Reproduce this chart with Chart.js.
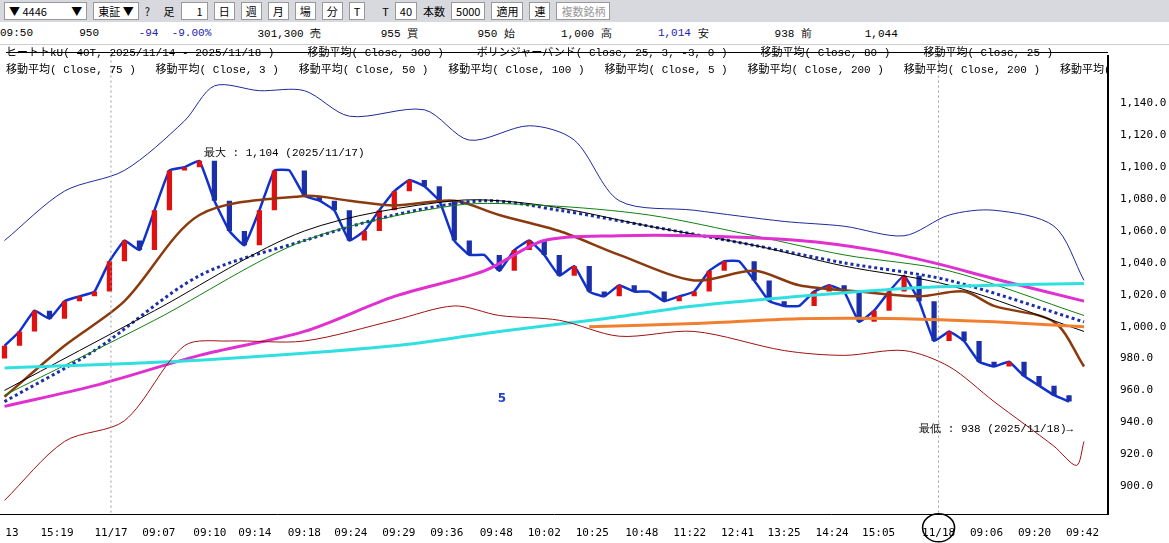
<!DOCTYPE html>
<html><head><meta charset="utf-8">
<script src="https://cdn.jsdelivr.net/npm/chart.js@4"></script>
<style>
body{margin:0;width:1169px;height:543px;overflow:hidden;font-family:"Noto Sans CJK JP","DejaVu Sans Mono",monospace;font-size:11px;background:#fff}
#bar{height:22px;background:#d8d9de;display:flex;align-items:center;gap:6px;padding-left:4px}
#bar span{background:#fff;border:1px solid #999;padding:0 4px;line-height:16px}
#info{height:22px;display:flex;align-items:center;font-family:"Liberation Mono",monospace;font-size:11px;white-space:pre}
#leg{position:absolute;left:6px;top:45px;font-family:"Liberation Mono","Noto Sans CJK JP",monospace;font-size:11px;line-height:17px;white-space:pre;color:#000;z-index:2;width:1102px;overflow:hidden}
#wrap{position:absolute;left:0;top:44px;width:1169px;height:499px;border-top:1px solid #ccc}
</style></head><body>
<div id="bar"><span>▼ 4446　　 ▼</span><span>東証 ▼</span>? 　足 <span>　1</span><span>日</span><span>週</span><span>月</span><span>場</span><span>分</span><span>T</span>　T <span>40</span>本数 <span>5000</span><span>適用</span><span>連</span><span style="color:#999">複数銘柄</span></div>
<div id="info">09:50       950      <span style="color:#22a">-94  -9.00%</span>       301,300 売         955 買         950 始       1,000 高       <span style="color:#22a">1,014</span> 安          938 前        1,044</div>
<div id="leg"><s>ヒートトkU( 40T, 2025/11/14 - 2025/11/18 )     移動平均( Close, 300 )     ボリンジャーバンド( Close, 25, 3, -3, 0 )     移動平均( Close, 80 )     移動平均( Close, 25 )                                      </s>
移動平均( Close, 75 )   移動平均( Close, 3 )   移動平均( Close, 50 )   移動平均( Close, 100 )   移動平均( Close, 5 )   移動平均( Close, 200 )   移動平均( Close, 200 )   移動平均( Cl</div>
<div id="wrap"><canvas id="c" width="1169" height="499"></canvas></div>
<script>
// === Datos ===
const closes = [988,997,1010,1005,1016,1019,1022,1041,1054,1048,1073,1098,1100,1104,1079,1060,1051,1073,1098,1098,1082,1079,1073,1054,1060,1073,1085,1092,1088,1079,1054,1045,1045,1035,1048,1054,1045,1032,1038,1022,1019,1026,1022,1022,1016,1019,1022,1035,1041,1041,1029,1016,1013,1013,1022,1026,1022,1003,1010,1022,1032,1016,991,997,991,978,975,978,969,963,957,953];
const opens  = [980,988,997,1010,1005,1016,1019,1022,1041,1054,1048,1073,1098,1100,1104,1079,1060,1051,1073,1098,1098,1082,1079,1073,1054,1060,1073,1085,1092,1088,1079,1054,1045,1045,1035,1048,1054,1045,1032,1038,1022,1019,1026,1022,1022,1016,1019,1022,1035,1041,1041,1029,1016,1013,1013,1022,1026,1022,1003,1010,1022,1032,1016,991,997,991,978,975,978,969,963,957];
// líneas: [índice, valor]
const ma25  = [[0,956],[4,988],[8,1016],[13,1070],[20,1082],[23,1079],[26,1076],[30,1079],[33,1070],[37,1060],[41,1045],[46,1029],[50,1035],[53,1026],[57,1022],[61,1019],[64,1022],[66,1013],[70,1003],[72,975]];
const ma75  = [[0,950],[6,963],[13,982],[20,997],[26,1019],[32,1035],[36,1054],[41,1057],[46,1057],[53,1054],[58,1048],[62,1040],[66,1030],[72,1016]];
const ma200 = [[0,974],[13,979],[26,988],[33,997],[40,1005],[46,1013],[53,1019],[60,1024],[66,1026],[72,1027]];
const ma200b= [[39,1000],[46,1002],[53,1005],[60,1005],[66,1003],[72,1000]];
const ma100 = [[0,953],[6,985],[13,1032],[20,1054],[26,1070],[32,1079],[37,1073],[43,1063],[50,1051],[56,1040],[63,1029],[72,1003]];
const ma50  = [[0,957],[10,1004],[20,1054],[30,1076],[36,1076],[43,1070],[50,1057],[56,1045],[63,1035],[72,1007]];
const ma80  = [[0,960],[10,1010],[20,1060],[30,1079],[36,1076],[43,1063],[50,1051],[56,1038],[63,1026],[72,997]];
const bbUp  = [[0,1054],[4,1085],[8,1098],[12,1129],[14,1151],[17,1148],[20,1148],[23,1132],[28,1136],[31,1117],[35,1126],[38,1117],[41,1079],[46,1073],[52,1066],[56,1063],[60,1057],[63,1070],[66,1073],[70,1063],[72,1029]];
const bbLo  = [[0,891],[4,928],[8,941],[12,988],[15,991],[20,991],[26,1004],[30,1013],[33,1007],[37,1004],[41,994],[46,997],[52,985],[56,982],[60,985],[63,975],[66,953],[70,925],[71.5,913],[72,928]];
const tickPos = [0.5,3.5,7.1,10.3,13.7,16.7,20,23.1,26.3,29.5,32.8,36,39.2,42.5,45.7,48.9,52,55.2,58.3,62.3,65.5,68.7,71.9];
const tickLbl = ['13','15:19','11/17','09:07','09:10','09:14','09:18','09:24','09:29','09:36','09:48','10:02','10:25','10:48','11:22','12:41','13:25','14:24','15:05','11/18','09:06','09:20','09:42'];
const yTicks = [900,920,940,960,980,1000,1020,1040,1060,1080,1100,1120,1140];

const xy = a => a.map(p => ({x: p[0], y: p[1]}));
const line = (data, color, w, dash, t) => ({type:'line', data: xy(data), borderColor: color, borderWidth: w, borderDash: dash || [], pointRadius: 0, tension: t ?? 0.3});

const candles = closes.map((c, i) => ({x: i, y: [opens[i], c]}));
const candleColors = closes.map((c, i) => c >= opens[i] ? '#e01010' : '#1a2fa8');

// === Textos sobre el gráfico ===
const notes = {
  id: 'notes',
  afterDatasetsDraw(chart) {
    const {ctx, scales: {x, y}, chartArea: a} = chart;
    ctx.save();
    ctx.setLineDash([2, 3]);
    ctx.strokeStyle = '#999';
    [7.1, 62.3].forEach(v => { ctx.beginPath(); ctx.moveTo(x.getPixelForValue(v), a.top); ctx.lineTo(x.getPixelForValue(v), a.bottom); ctx.stroke(); });
    ctx.setLineDash([]);
    ctx.font = '11px "Liberation Mono"';
    ctx.fillStyle = '#000';
    ctx.fillText('最大 : 1,104 (2025/11/17)', x.getPixelForValue(13.3), y.getPixelForValue(1107));
    ctx.fillText('最低 : 938 (2025/11/18)→', x.getPixelForValue(61), y.getPixelForValue(934));
    ctx.fillStyle = '#2244cc';
    ctx.font = 'bold 12px "DejaVu Sans"';
    ctx.fillText('5', x.getPixelForValue(32.9), y.getPixelForValue(953));
    ctx.strokeStyle = '#000';
    ctx.lineWidth = 1.5;
    ctx.beginPath(); ctx.ellipse(x.getPixelForValue(62.3), a.bottom + 13, 16, 14, 0, 0, Math.PI * 2); ctx.stroke();
    ctx.restore();
  }
};

new Chart(document.getElementById('c'), {
  data: {
    datasets: [
      line(bbUp, '#1c2a9a', 1), line(bbLo, '#a01010', 1),
      line(ma200, '#30e0e0', 3), line(ma200b, '#f08030', 3),
      line(ma75, '#e030d0', 3), line(ma50, '#108010', 1), line(ma80, '#000', 1),
      line(ma100, '#1a2fa8', 3, [3, 3]), line(ma25, '#8b3a0e', 2.5),
      {type:'bar', data: candles, backgroundColor: candleColors, barPercentage: 0.35, categoryPercentage: 1},
      line(closes.map((c, i) => [i, c]), '#1030d0', 2.5, [], 0.1)
    ]
  },
  options: {
    responsive: false, animation: false,
    plugins: {legend: {display: false}, tooltip: {enabled: false}},
    scales: {
      x: {type: 'linear', min: -0.3, max: 73.6, offset: false,
        grid: {display: false}, border: {color: '#000'},
        afterBuildTicks: s => { s.ticks = tickPos.map(v => ({value: v})); },
        ticks: {autoSkip: false, maxRotation: 0, padding: 4, color: '#000', font: {size: 11, family: 'DejaVu Sans Mono'},
          callback: (v) => tickLbl[tickPos.indexOf(v)]}},
      y: {position: 'right', min: 882, max: 1170,
        grid: {display: false}, border: {color: '#000', width: 2},
        afterBuildTicks: s => { s.ticks = yTicks.map(v => ({value: v})); },
        ticks: {color: '#000', font: {size: 11, family: 'DejaVu Sans Mono'}, padding: 4,
          callback: v => v.toLocaleString('en-US', {minimumFractionDigits: 1})},
        afterFit: s => { s.width = 61; }}
    }
  },
  plugins: [notes]
});
</script>
</body></html>
